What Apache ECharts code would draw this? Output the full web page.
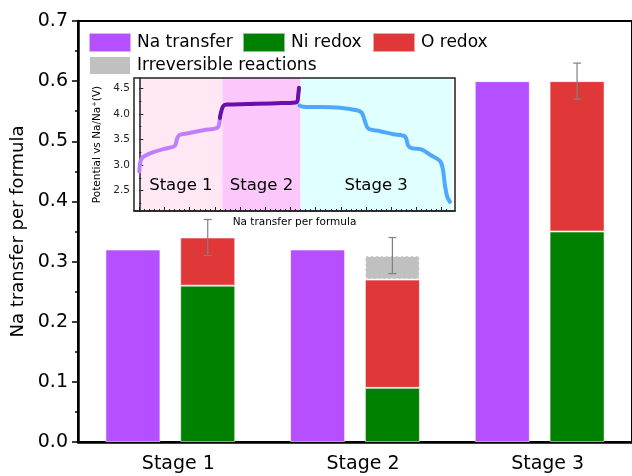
<!DOCTYPE html>
<html>
<head>
<meta charset="utf-8">
<script src="https://cdn.jsdelivr.net/npm/echarts@6/dist/echarts.min.js"></script>
<style>
  html, body { margin: 0; padding: 0; background: #fff; }
  #chart { width: 632px; height: 476px; }
</style>
</head>
<body>
<div id="chart"></div>
<script>
// ---- Main bar chart: Na transfer vs. redox contributions per stage ----
const stages = ['Stage 1', 'Stage 2', 'Stage 3'];
const naTransfer = [0.32, 0.32, 0.60];
const niRedox = [0.26, 0.09, 0.35];
const oRedox = [0.08, 0.18, 0.25];
const irreversible = ['-', 0.04, '-'];
// error bar centre (top of the redox stack) and half-width
const redoxTotal = [0.34, 0.31, 0.60];
const redoxError = [0.03, 0.03, 0.03];

// ---- Inset: voltage profile (x = Na transfer per formula, y = V vs Na/Na+) ----
const chargeStage1 = [
  [0.000, 2.87], [0.003, 3.03], [0.010, 3.13], [0.023, 3.18], [0.056, 3.25],
  [0.095, 3.31], [0.129, 3.35], [0.142, 3.38], [0.151, 3.53], [0.161, 3.59],
  [0.194, 3.62], [0.254, 3.68], [0.300, 3.71], [0.314, 3.75], [0.320, 3.92]
];
const chargeStage2 = [
  [0.320, 3.92], [0.324, 4.02], [0.333, 4.15], [0.347, 4.18], [0.433, 4.19],
  [0.565, 4.21], [0.625, 4.23], [0.631, 4.38], [0.634, 4.51]
];
const dischargeStage3 = [
  [0.636, 4.16], [0.651, 4.14], [0.796, 4.12], [0.863, 4.07], [0.883, 4.02],
  [0.896, 3.85], [0.909, 3.71], [0.955, 3.66], [1.008, 3.60], [1.054, 3.56],
  [1.067, 3.38], [1.081, 3.33], [1.121, 3.30], [1.154, 3.20], [1.193, 3.08],
  [1.204, 2.94], [1.213, 2.61], [1.222, 2.38], [1.233, 2.28]
];
const stageNames = ['Stage 1', 'Stage 2', 'Stage 3'];
const stageBounds = [0, 0.33, 0.64, 1.24];
const insetVTicks = [2.5, 3.0, 3.5, 4.0, 4.5];
const insetVMinorTicks = [2.25, 2.75, 3.25, 3.75, 4.25];
const insetXTicks = [0, 0.1, 0.2, 0.3, 0.4, 0.5, 0.6, 0.7, 0.8, 0.9, 1.0, 1.1, 1.2];
const insetXMinorTicks = [];
for (let k = 1; k < 62; k++) if (k % 5) insetXMinorTicks.push(+(k * 0.02).toFixed(2));

const FONT = 'DejaVu Sans';
const COLORS = {
  na: '#b64fff', ni: '#008000', o: '#e03838', irr: '#c0c0c0',
  s1bg: '#ffe8f3', s2bg: '#fcc8fc', s3bg: '#e0ffff',
  c1: '#c17dff', c2: '#6a0dad', c3: '#4fa8ff'
};

const BAR_W = 55;
const BAR_GAP = 0.36;
const ERR_OFFSET = (BAR_W + BAR_W * BAR_GAP) / 2;

const barBorder = { borderColor: 'rgba(255,255,255,0.55)', borderWidth: 1 };

function legendAt(name, left, top) {
  return {
    data: [name], left: left, top: top, padding: 0, itemGap: 0,
    itemWidth: 42, itemHeight: 19, icon: 'rect',
    textStyle: { fontFamily: FONT, fontSize: 17, color: '#000', padding: [0, 0, 0, 1] }
  };
}

const stageAreas = stageNames.map((n, i) => [
  { name: n, xAxis: stageBounds[i], itemStyle: { color: [COLORS.s1bg, COLORS.s2bg, COLORS.s3bg][i] } },
  { xAxis: stageBounds[i + 1] }
]);

const insetRangeX = { min: -0.021, max: 1.253 };
const insetRangeV = { min: 2.1, max: 4.7 };

const option = {
  backgroundColor: '#fff',
  animation: false,
  textStyle: { fontFamily: FONT },
  legend: [
    legendAt('Na transfer', 88, 32),
    legendAt('Ni redox', 242, 32),
    legendAt('O redox', 372, 32),
    legendAt('Irreversible reactions', 88, 55)
  ],
  grid: [
    { left: 78, top: 21, width: 561, height: 421, show: true, borderColor: '#000', borderWidth: 2, backgroundColor: 'transparent' },
    { left: 134, top: 78, width: 321, height: 133, show: true, borderColor: '#222', borderWidth: 1.5, backgroundColor: 'transparent', z: 2 }
  ],
  xAxis: [
    {
      type: 'category', gridIndex: 0, data: stages,
      axisLine: { lineStyle: { color: '#000', width: 2.5 } },
      axisTick: { show: false },
      axisLabel: { fontFamily: FONT, fontSize: 19, color: '#000', margin: 13, padding: [0, 0, 0, 16] }
    },
    {
      type: 'value', gridIndex: 1, position: 'bottom', ...insetRangeX, z: 3,
      splitLine: { show: false },
      axisLine: { show: true, lineStyle: { color: '#222', width: 1.5 } },
      axisTick: { show: true, inside: true, length: 4, customValues: insetXTicks, lineStyle: { color: '#222', width: 1 } },
      axisLabel: { show: false },
      name: 'Na transfer per formula', nameLocation: 'middle', nameGap: 6,
      nameTextStyle: { fontFamily: FONT, fontSize: 10.5, color: '#000', verticalAlign: 'top' }
    },
    {
      type: 'value', gridIndex: 1, position: 'bottom', ...insetRangeX, z: 3,
      splitLine: { show: false }, axisLine: { show: false },
      axisTick: { show: true, inside: true, length: 2, customValues: insetXMinorTicks, lineStyle: { color: '#222', width: 1 } },
      axisLabel: { show: false }
    }
  ],
  yAxis: [
    {
      type: 'value', gridIndex: 0, min: 0, max: 0.7, interval: 0.1,
      splitLine: { show: false },
      axisLine: { show: true, lineStyle: { color: '#000', width: 2.5 } },
      axisTick: { show: true, inside: false, length: 6, lineStyle: { color: '#000', width: 1.5 } },
      minorTick: { show: true, splitNumber: 2, length: 3, lineStyle: { color: '#000', width: 1.5 } },
      axisLabel: { fontFamily: FONT, fontSize: 19, color: '#000', margin: 10, formatter: v => v.toFixed(1) },
      name: 'Na transfer per formula', nameLocation: 'middle', nameGap: 46,
      nameTextStyle: { fontFamily: FONT, fontSize: 18, color: '#000' }
    },
    {
      type: 'value', gridIndex: 1, position: 'left', ...insetRangeV, z: 3,
      splitLine: { show: false },
      axisLine: { show: true, lineStyle: { color: '#222', width: 1.5 } },
      axisTick: { show: true, inside: true, length: 4, customValues: insetVTicks, lineStyle: { color: '#222', width: 1 } },
      axisLabel: { customValues: insetVTicks, fontFamily: FONT, fontSize: 10.5, color: '#222', margin: 4, formatter: v => v.toFixed(1) },
      name: 'Potential vs Na/Na\u207A(V)', nameLocation: 'middle', nameGap: 25,
      nameTextStyle: { fontFamily: FONT, fontSize: 10.5, color: '#000' }
    },
    {
      type: 'value', gridIndex: 1, position: 'left', ...insetRangeV, z: 3,
      splitLine: { show: false }, axisLine: { show: false },
      axisTick: { show: true, inside: true, length: 2, customValues: insetVMinorTicks, lineStyle: { color: '#222', width: 1 } },
      axisLabel: { show: false }
    }
  ],
  series: [
    {
      name: 'Na transfer', type: 'bar', xAxisIndex: 0, yAxisIndex: 0,
      data: naTransfer, barWidth: BAR_W, barGap: (BAR_GAP * 100) + '%',
      itemStyle: { color: COLORS.na, ...barBorder }
    },
    {
      name: 'Ni redox', type: 'bar', stack: 'redox', xAxisIndex: 0, yAxisIndex: 0,
      data: niRedox, barWidth: BAR_W, barGap: (BAR_GAP * 100) + '%',
      itemStyle: { color: COLORS.ni, ...barBorder }
    },
    {
      name: 'O redox', type: 'bar', stack: 'redox', xAxisIndex: 0, yAxisIndex: 0,
      data: oRedox, barWidth: BAR_W, barGap: (BAR_GAP * 100) + '%',
      itemStyle: { color: COLORS.o, ...barBorder }
    },
    {
      name: 'Irreversible reactions', type: 'bar', stack: 'redox', xAxisIndex: 0, yAxisIndex: 0,
      data: irreversible, barWidth: BAR_W, barGap: (BAR_GAP * 100) + '%',
      itemStyle: { color: COLORS.irr, borderColor: '#fff', borderWidth: 1.2, borderType: [3, 2] }
    },
    {
      name: 'error', type: 'custom', xAxisIndex: 0, yAxisIndex: 0, z: 10,
      data: stages.map((s, i) => [i, redoxTotal[i], redoxError[i]]),
      encode: { x: 0, y: 1 },
      renderItem: function (params, api) {
        const i = api.value(0), mid = api.value(1), e = api.value(2);
        const top = api.coord([i, mid + e]);
        const bot = api.coord([i, mid - e]);
        const x = top[0] + ERR_OFFSET;
        const cap = 4;
        const style = { stroke: '#808080', lineWidth: 1.2 };
        return {
          type: 'group',
          children: [
            { type: 'line', shape: { x1: x, y1: top[1], x2: x, y2: bot[1] }, style: style },
            { type: 'line', shape: { x1: x - cap, y1: top[1], x2: x + cap, y2: top[1] }, style: style },
            { type: 'line', shape: { x1: x - cap, y1: bot[1], x2: x + cap, y2: bot[1] }, style: style }
          ]
        };
      }
    },
    {
      name: 'charge 1', type: 'line', xAxisIndex: 1, yAxisIndex: 1, z: 6,
      data: chargeStage1, showSymbol: false, smooth: 0.35,
      lineStyle: { color: COLORS.c1, width: 4, cap: 'round', join: 'round' },
      markArea: {
        silent: true, z: 1,
        label: { show: true, position: 'insideBottom', distance: 17, fontFamily: FONT, fontSize: 16.5, color: '#000' },
        data: stageAreas
      }
    },
    {
      name: 'charge 2', type: 'line', xAxisIndex: 1, yAxisIndex: 1, z: 7,
      data: chargeStage2, showSymbol: false, smooth: 0.35,
      lineStyle: { color: COLORS.c2, width: 4, cap: 'round', join: 'round' }
    },
    {
      name: 'discharge 3', type: 'line', xAxisIndex: 1, yAxisIndex: 1, z: 6,
      data: dischargeStage3, showSymbol: false, smooth: 0.35,
      lineStyle: { color: COLORS.c3, width: 4, cap: 'round', join: 'round' }
    }
  ]
};

const chart = echarts.init(document.getElementById('chart'), null, { renderer: 'canvas' });
chart.setOption(option);
</script>
</body>
</html>
